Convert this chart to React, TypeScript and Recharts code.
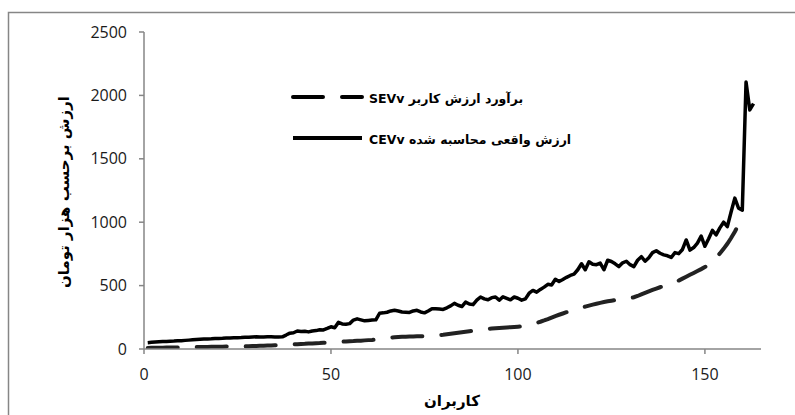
import React from "react";
import { LineChart, Line, XAxis, YAxis } from "recharts";

// Real (calculated) customer value CEVv, users 1..163
const cevValues = [
  50, 53, 55, 57, 59, 60, 62, 63, 65, 66,
  68, 70, 72, 74, 76, 78, 79, 80, 82, 83,
  84, 86, 87, 88, 89, 90, 92, 93, 95, 96,
  95, 95, 96, 96, 95, 95, 96, 110, 125, 128,
  142, 138, 140, 135, 142, 145, 152, 150, 162, 175,
  168, 210, 198, 195, 200, 228, 238, 230, 222, 225,
  228, 230, 282, 285, 290, 300, 305, 300, 292, 290,
  288, 300, 305, 292, 285, 300, 318, 318, 315, 312,
  325, 340, 360, 345, 335, 370, 355, 350, 385, 410,
  395, 388, 405, 410, 385, 412, 400, 388, 410, 400,
  385, 395, 440, 462, 448, 470, 488, 510, 505, 550,
  532, 548, 565, 580, 590, 625, 672, 625, 688, 668,
  665, 678, 625, 700, 690, 672, 650, 680, 692, 665,
  650, 700, 728, 692, 720, 760, 775, 755, 742, 735,
  722, 760, 752, 785, 860, 780, 800, 835, 890, 810,
  870, 935, 900, 955, 1000, 965, 1080, 1190, 1110, 1095,
  2105, 1885, 1935,
];

// Estimated customer value SEVv, users 1..159
const sevValues = [
  8, 9, 9, 10, 10, 11, 11, 12, 12, 13,
  13, 14, 14, 15, 15, 16, 16, 17, 17, 18,
  18, 19, 19, 20, 20, 21, 21, 22, 23, 24,
  25, 26, 27, 28, 29, 30, 31, 33, 35, 37,
  38, 40, 41, 43, 44, 46, 47, 49, 50, 52,
  54, 56, 58, 60, 62, 63, 65, 66, 68, 70,
  71, 74, 78, 82, 86, 90, 92, 94, 96, 97,
  98, 99, 100, 101, 102, 104, 106, 108, 110, 112,
  116, 120, 124, 128, 132, 136, 140, 144, 148, 152,
  155, 158, 161, 164, 166, 168, 170, 172, 174, 176,
  178, 184, 191, 198, 206, 215, 225, 236, 248, 260,
  270, 280, 290, 300, 310, 318, 326, 334, 342, 350,
  357, 364, 370, 376, 381, 386, 390, 394, 398, 402,
  408, 418, 430, 442, 454, 466, 477, 487, 497, 510,
  520, 530, 540, 555, 570, 585, 600, 615, 630, 646,
  662, 690, 722, 754, 790, 830, 875, 925, 980,
];

const xTicks = [0, 50, 100, 150];
const yTicks = [0, 500, 1000, 1500, 2000, 2500];

const sevLabel = "SEVv برآورد ارزش کاربر";
const cevLabel = "CEVv ارزش واقعی محاسبه شده";
const yAxisLabel = "ارزش برحسب هزار تومان";
const xAxisLabel = "کاربران";

const rows = cevValues.map((v, i) => ({
  user: i + 1,
  cev: v,
  sev: i < sevValues.length ? sevValues[i] : null,
}));

const axisGray = "#868686";
const tickStyle = { fill: "#1a1a1a", fontSize: 16, fontFamily: "Open Sans" };
const faFont = "DejaVu Sans";

export default function App() {
  return (
    <div style={{ position: "relative", width: 795, height: 415, background: "#fff" }}>
      <style>{"body{margin:0;background:#fff;}"}</style>
      <LineChart
        width={795}
        height={415}
        data={rows}
        margin={{ top: 32, right: 34, left: 0, bottom: 0 }}
      >
        <XAxis
          dataKey="user"
          type="number"
          domain={[0, 165]}
          ticks={xTicks}
          height={66}
          tickSize={5}
          tickMargin={15}
          axisLine={{ stroke: axisGray, strokeWidth: 1.5 }}
          tickLine={{ stroke: axisGray, strokeWidth: 1.5 }}
          tick={tickStyle}
          allowDataOverflow
        />
        <YAxis
          type="number"
          domain={[0, 2500]}
          ticks={yTicks}
          width={144}
          tickSize={5}
          tickMargin={12}
          axisLine={{ stroke: axisGray, strokeWidth: 1.5 }}
          tickLine={{ stroke: axisGray, strokeWidth: 1.5 }}
          tick={tickStyle}
          allowDataOverflow
        />
        <Line
          dataKey="sev"
          stroke="#222"
          strokeWidth={4}
          strokeDasharray="30 19"
          strokeLinecap="round"
          dot={false}
          activeDot={false}
          type="linear"
          isAnimationActive={false}
        />
        <Line
          dataKey="cev"
          stroke="#000"
          strokeWidth={3.5}
          strokeLinejoin="round"
          dot={false}
          activeDot={false}
          type="linear"
          isAnimationActive={false}
        />
      </LineChart>
      <svg
        width={795}
        height={415}
        style={{ position: "absolute", left: 0, top: 0, pointerEvents: "none" }}
      >
        <rect x={8.5} y={12.5} width={820} height={440} fill="none" stroke={axisGray} strokeWidth={1.5} />
        <line x1={293} y1={97} x2={362} y2={97} stroke="#000" strokeWidth={4} strokeDasharray="30 19" strokeLinecap="round" />
        <line x1={293} y1={138} x2={362} y2={138} stroke="#000" strokeWidth={4} />
        <text x={369} y={103} fontFamily={faFont} fontWeight="bold" fontSize={12.5} fill="#000">
          {sevLabel}
        </text>
        <text x={369} y={144} fontFamily={faFont} fontWeight="bold" fontSize={12.5} fill="#000">
          {cevLabel}
        </text>
        <text
          x={64}
          y={192}
          transform="rotate(-90 64 192)"
          textAnchor="middle"
          dominantBaseline="central"
          fontFamily={faFont}
          fontWeight="bold"
          fontSize={15}
          fill="#000"
        >
          {yAxisLabel}
        </text>
        <text
          x={452}
          y={406}
          textAnchor="middle"
          fontFamily={faFont}
          fontWeight="bold"
          fontSize={15}
          fill="#000"
        >
          {xAxisLabel}
        </text>
      </svg>
    </div>
  );
}
